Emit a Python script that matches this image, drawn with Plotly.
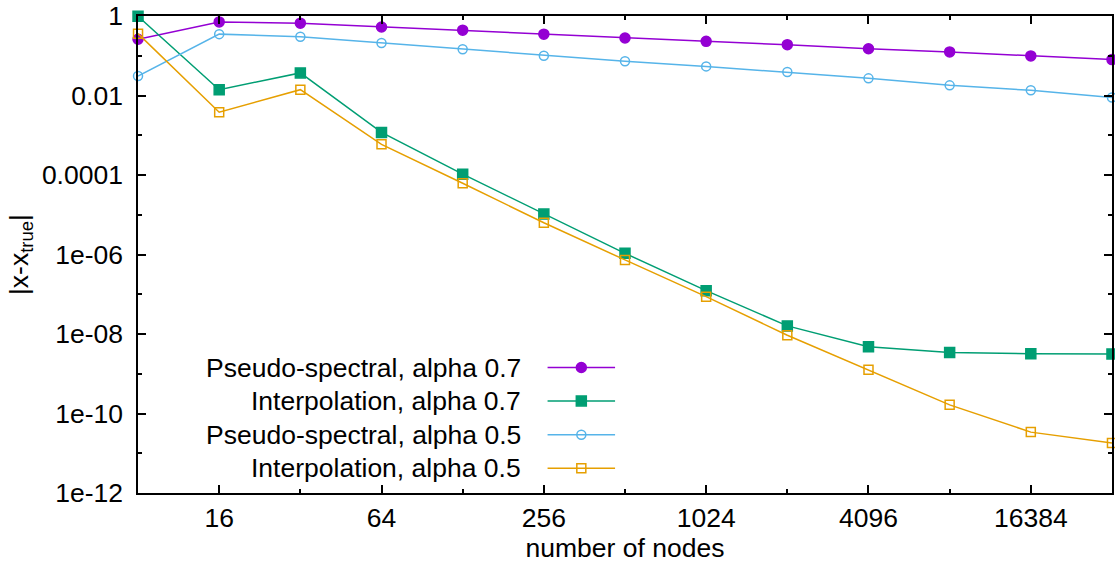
import math
import plotly.graph_objects as go

# Node counts (powers of two)
nodes = [8, 16, 32, 64, 128, 256, 512, 1024, 2048, 4096, 8192, 16384, 32768]

# Error |x - x_true| for each method
ps_07 = [0.26, 0.71, 0.66, 0.53, 0.44, 0.35, 0.28, 0.23, 0.19, 0.15, 0.125, 0.099, 0.080]
interp_07 = [0.98, 0.014, 0.037, 1.18e-3, 1.05e-4, 1.04e-5, 1.07e-6, 1.23e-7,
             1.6e-8, 4.8e-9, 3.4e-9, 3.2e-9, 3.15e-9]
ps_05 = [0.031, 0.35, 0.30, 0.21, 0.146, 0.10, 0.073, 0.054, 0.039, 0.027,
         0.018, 0.0135, 0.0089]
interp_05 = [0.36, 0.0038, 0.014, 5.9e-4, 6.2e-5, 6.3e-6, 7.3e-7, 8.7e-8,
             9.3e-9, 1.26e-9, 1.65e-10, 3.4e-11, 1.8e-11]

series_names = ["Pseudo-spectral, alpha 0.7", "Interpolation, alpha 0.7",
                "Pseudo-spectral, alpha 0.5", "Interpolation, alpha 0.5"]

x_major = [16, 64, 256, 1024, 4096, 16384]
x_minor = [8, 32, 128, 512, 2048, 8192, 32768]
y_major = [1, 1e-2, 1e-4, 1e-6, 1e-8, 1e-10, 1e-12]
y_major_text = ["1", "0.01", "0.0001", "1e-06", "1e-08", "1e-10", "1e-12"]
y_minor = [1e-1, 1e-3, 1e-5, 1e-7, 1e-9, 1e-11]

FONT = "Liberation Sans, Arial, sans-serif"
FS = 26.5

styles = [
    dict(color="#9400d3", symbol="circle", size=10, lw=1.5),
    dict(color="#009e73", symbol="square", size=10, lw=1.5),
    dict(color="#56b4e9", symbol="circle-open", size=9, lw=1.5),
    dict(color="#e69f00", symbol="square-open", size=9, lw=1.5),
]

fig = go.Figure()
for name, ys, st in zip(series_names, [ps_07, interp_07, ps_05, interp_05], styles):
    fig.add_trace(go.Scatter(
        x=nodes, y=ys, mode="lines+markers", name=name, showlegend=False,
        line=dict(color=st["color"], width=st["lw"]),
        marker=dict(symbol=st["symbol"], size=st["size"], color=st["color"],
                    line=dict(color=st["color"], width=1.5)),
        cliponaxis=False,
    ))

# Key: right-aligned labels with a line sample to their right
key_rows = [0.263, 0.193, 0.122, 0.052]
key_x0, key_x1, key_text_x = 0.4205, 0.4898, 0.3955
for name, st, ky in zip(series_names, styles, key_rows):
    fig.add_trace(go.Scatter(
        x=[key_x0, (key_x0 + key_x1) / 2, key_x1], y=[ky, ky, ky],
        xaxis="x2", yaxis="y2", mode="lines", showlegend=False, hoverinfo="skip",
        line=dict(color=st["color"], width=st["lw"]),
    ))
    fig.add_trace(go.Scatter(
        x=[(key_x0 + key_x1) / 2], y=[ky],
        xaxis="x2", yaxis="y2", mode="markers", showlegend=False, hoverinfo="skip",
        marker=dict(symbol=st["symbol"], size=st["size"], color=st["color"],
                    line=dict(color=st["color"], width=1.5)),
    ))
    fig.add_annotation(
        x=key_text_x, y=ky, xref="paper", yref="paper", text=name,
        showarrow=False, xanchor="right", yanchor="middle",
        font=dict(family=FONT, size=FS, color="black"),
    )

axis_common = dict(
    showgrid=False, zeroline=False, showline=True, linecolor="black", linewidth=1.5,
    mirror="allticks", ticks="inside", tickcolor="black", tickwidth=1.5,
    tickfont=dict(family=FONT, size=FS, color="black"),
)

pad = 1e-4
fig.update_layout(
    width=1115, height=563,
    margin=dict(l=138, r=1, t=16, b=70),
    plot_bgcolor="white", paper_bgcolor="white",
    font=dict(family=FONT, size=FS, color="black"),
    xaxis=dict(
        type="log", range=[math.log10(8) - pad, math.log10(32768) + pad],
        tickmode="array", tickvals=x_major, ticktext=[str(v) for v in x_major],
        ticklen=8, ticklabelstandoff=0,
        minor=dict(tickmode="array", tickvals=x_minor, ticks="inside", ticklen=4,
                   tickcolor="black", tickwidth=1.5, showgrid=False),
        title=dict(text="number of nodes", standoff=0,
                   font=dict(family=FONT, size=FS, color="black")),
        **axis_common,
    ),
    yaxis=dict(
        type="log", range=[-12 - pad, pad],
        tickmode="array", tickvals=y_major, ticktext=y_major_text,
        ticklen=8, ticklabelstandoff=8,
        minor=dict(tickmode="array", tickvals=y_minor, ticks="inside", ticklen=4,
                   tickcolor="black", tickwidth=1.5, showgrid=False),
        title=dict(text="|x-x<sub>true</sub>|", standoff=6,
                   font=dict(family=FONT, size=FS, color="black")),
        **axis_common,
    ),
    xaxis2=dict(overlaying="x", range=[0, 1], visible=False, anchor="y2"),
    yaxis2=dict(overlaying="y", range=[0, 1], visible=False, anchor="x2"),
)

fig.write_html("out.html")
